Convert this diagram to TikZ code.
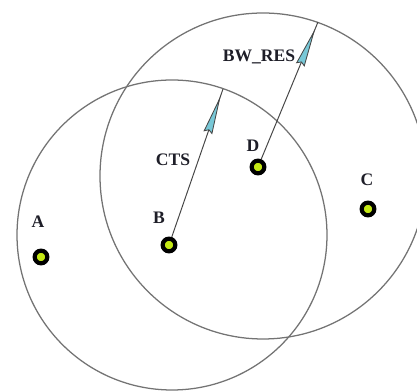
\documentclass[tikz,border=0pt]{standalone}
\usepackage{fontspec}
\setmainfont{Liberation Serif}
\usepackage{xcolor}
\usepackage{tikz}
\usetikzlibrary{
arrows.meta,
positioning,
decorations.markings
}
\definecolor{rngray}{RGB}{115,115,115}
\definecolor{lngray}{RGB}{70,70,70}
\definecolor{dotgreen}{RGB}{196,232,20}
\definecolor{headcyan}{RGB}{120,200,215}
\definecolor{lbldark}{RGB}{30,30,40}

\begin{document}
\begin{tikzpicture}[
  x=0.025cm, y=-0.025cm,
  >={Stealth},
  every node/.style={font=\fontsize{12.5}{14}\selectfont\bfseries, text=lbldark},
  station/.style={circle, draw=black, line width=3pt, fill=dotgreen,
                  minimum size=9pt, inner sep=0pt},
  rangecircle/.style={rngray, line width=0.9pt},
  sigline/.style={lngray, line width=0.7pt, postaction={decorate},
    decoration={markings, mark=at position -5pt with
      {\arrow{Stealth[length=28pt, width=6.5pt, inset=2pt,
        line width=0.6pt, color=lngray, fill=headcyan]}}}}
]
\useasboundingbox (0,0) rectangle (417,392);
\clip (0,0) rectangle (417,392);

%% ── RANGE CIRCLES ───────────────────────────────────────────
\draw[rangecircle] (172,235) circle [radius=155];
\draw[rangecircle] (263,176) circle [radius=163];

%% Stations
\node[station] (A) at (41,257)  {};
\node[station] (B) at (169,245) {};
\node[station] (D) at (258,167) {};
\node[station] (C) at (368,209) {};

%% Station labels
\node (labA) at (38,222)  {A};
\node (labB) at (159,218) {B};
\node (labD) at (253,146) {D};
\node (labC) at (367,180) {C};

%% ── SIGNALS ─────────────────────────────────────────────────
\coordinate (ctsEnd) at (223,89);
\coordinate (bwEnd)  at (318,22);

\draw[sigline] (B) -- (ctsEnd);
\draw[sigline] (D) -- (bwEnd);

\node (labCTS) at (173,160) {CTS};
\node (labBW)  at (259,57)  {BW\_RES};

\end{tikzpicture}
\end{document}
